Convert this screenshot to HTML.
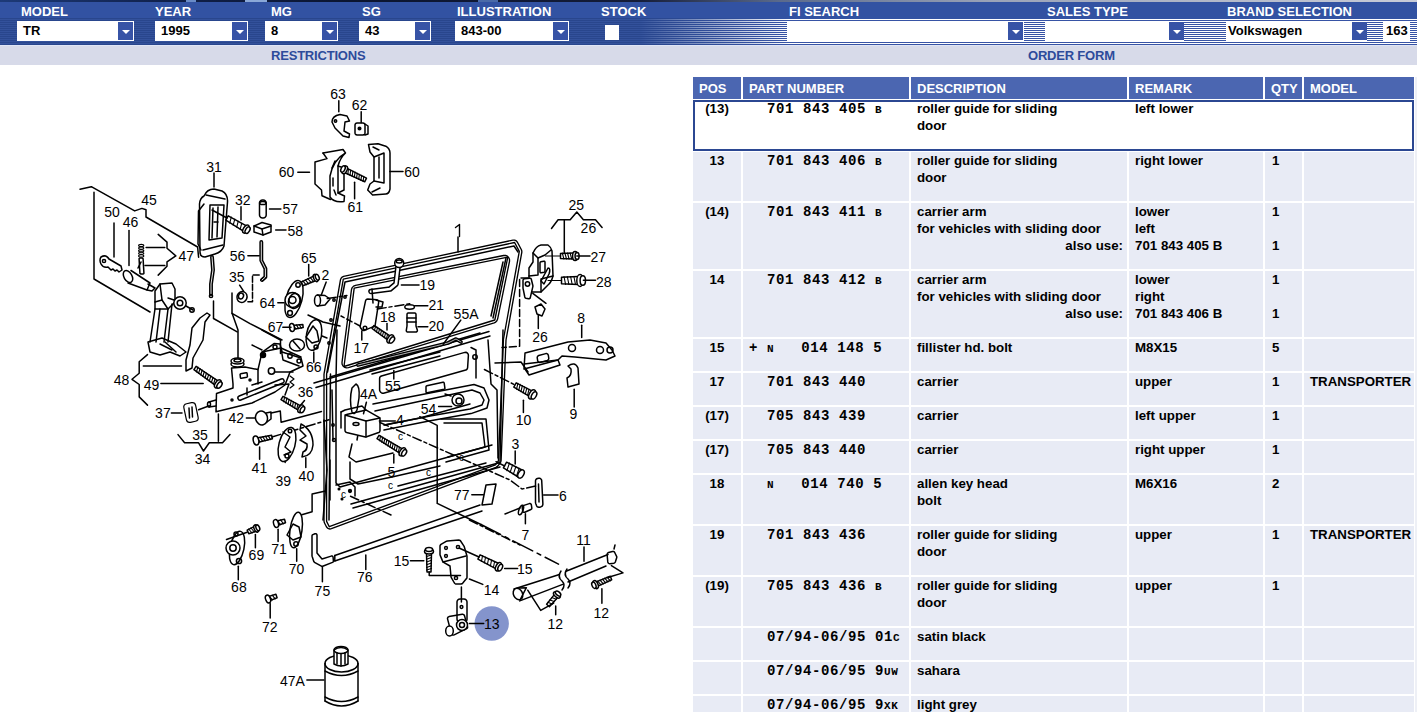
<!DOCTYPE html>
<html><head><meta charset="utf-8"><style>
*{margin:0;padding:0;box-sizing:border-box}
html,body{width:1417px;height:727px;overflow:hidden;background:#fff;font-family:"Liberation Sans",sans-serif}
.abs{position:absolute}
#top{position:absolute;left:0;top:0;width:1417px;height:2px;background:linear-gradient(90deg,#1d3a78 0%,#10204a 12%,#0b1530 25%,#141c38 45%,#5a6a8c 55%,#9aa3b8 70%,#c8ccd8 100%)}
#band{position:absolute;left:0;top:2px;width:1417px;height:17px;background:#3252a2}
#row2{position:absolute;left:0;top:19px;width:1417px;height:26px;background:repeating-linear-gradient(180deg,#ffffff 0px,#ffffff 1px,#3753a5 1px,#3753a5 2px)}
#row2b{position:absolute;left:0;top:18px;width:800px;height:27px;background:repeating-linear-gradient(180deg,#29468d 0px,#29468d 1px,#33519b 1px,#33519b 2px);-webkit-mask-image:linear-gradient(90deg,#000 0px,#000 640px,rgba(0,0,0,0) 790px);mask-image:linear-gradient(90deg,#000 0px,#000 640px,rgba(0,0,0,0) 790px)}
.lbl{position:absolute;top:4px;color:#fff;font-weight:bold;font-size:13px;line-height:15px;white-space:nowrap}
.sb{position:absolute;top:21px;height:20px;background:#fff;font-weight:bold;font-size:13px;line-height:20px;padding-left:6px;color:#000;white-space:nowrap}
.ar{position:absolute;top:22px;width:15px;height:18px;background:#3753a6}
.ar:after{content:"";position:absolute;left:4px;top:8px;border-left:4px solid transparent;border-right:4px solid transparent;border-top:4px solid #fff}
#bar{position:absolute;left:0;top:45px;width:1417px;height:20px;background:#d7dae9;border-top:1px solid #dfe5f6}
.bt{position:absolute;top:48px;color:#2d4b9b;font-weight:bold;font-size:13px;line-height:15px;letter-spacing:-0.2px}
.th{position:absolute;top:77px;height:22px;background:#4b66b1;color:#fff;font-weight:bold;font-size:13px;line-height:23px;padding-left:6px;white-space:nowrap}
.td{position:absolute;font-weight:bold;font-size:13.3px;color:#000;white-space:nowrap}
.td.bg{background:#e8ebf5}
.ln{height:17px;line-height:17px}
.td{padding-top:0px}
.c0 .ln{text-align:center}
.c1{padding-left:6px}
.c2{padding-left:6px;padding-right:4px}
.c3{padding-left:6px}
.c4{padding-left:7px}
.c5{padding-left:6px}
.rt{text-align:right}
.pn{font-family:"Liberation Mono",monospace;font-size:14px;letter-spacing:0.6px;white-space:pre;position:relative;top:1px}
.pn s{text-decoration:none;font-size:11px}
.sel{position:absolute;left:693px;top:100px;width:721px;height:51px;border:2px solid #2b4792;background:#fff}
#diag{position:absolute;left:0;top:65px}
</style></head><body>
<div id="top"></div><div class="abs" style="left:186px;top:0;width:10px;height:2px;background:#6a8cc8"></div><div class="abs" style="left:245px;top:0;width:22px;height:2px;background:#8aa8d8"></div><div class="abs" style="left:478px;top:0;width:20px;height:2px;background:#4a6aa8"></div><div id="band"></div><div id="row2"></div><div id="row2b"></div>
<div class="lbl" style="left:21px">MODEL</div>
<div class="lbl" style="left:155px">YEAR</div>
<div class="lbl" style="left:271px">MG</div>
<div class="lbl" style="left:362px">SG</div>
<div class="lbl" style="left:457px">ILLUSTRATION</div>
<div class="lbl" style="left:601px">STOCK</div>
<div class="lbl" style="left:789px">FI SEARCH</div>
<div class="lbl" style="left:1047px">SALES TYPE</div>
<div class="lbl" style="left:1227px">BRAND SELECTION</div>
<div class="sb" style="left:17px;width:117px">TR</div><div class="ar" style="left:118px"></div>
<div class="sb" style="left:155px;width:93px">1995</div><div class="ar" style="left:232px"></div>
<div class="sb" style="left:265px;width:73px">8</div><div class="ar" style="left:322px"></div>
<div class="sb" style="left:359px;width:72px">43</div><div class="ar" style="left:415px"></div>
<div class="sb" style="left:455px;width:114px">843-00</div><div class="ar" style="left:553px"></div>
<div class="abs" style="left:605px;top:25px;width:14px;height:15px;background:#fff"></div>
<div class="sb" style="left:787px;width:237px"></div><div class="ar" style="left:1008px"></div>
<div class="sb" style="left:1045px;width:139px"></div><div class="ar" style="left:1169px"></div>
<div class="sb" style="left:1226px;width:141px;padding-left:2px">Volkswagen</div><div class="ar" style="left:1352px"></div>
<div class="sb" style="left:1383px;width:27px;padding-left:3px">163</div>
<div id="bar"></div>
<div class="bt" style="left:271px">RESTRICTIONS</div>
<div class="bt" style="left:1028px">ORDER FORM</div>
<div id="tbl" style="position:absolute;left:0;top:0;width:1417px;height:712px;overflow:hidden"><div class="th" style="left:693px;width:48px">POS</div><div class="th" style="left:743px;width:166px">PART NUMBER</div><div class="th" style="left:911px;width:216px">DESCRIPTION</div><div class="th" style="left:1129px;width:134px">REMARK</div><div class="th" style="left:1265px;width:37px">QTY</div><div class="th" style="left:1304px;width:110px">MODEL</div><div class="sel" style="top:100px"></div><div class="td c0" style="top:100px;left:693px;width:48px;height:51px"><div class="ln c">(13)</div></div><div class="td c1" style="top:100px;left:743px;width:166px;height:51px"><div class="ln pn">  701 843 405 <s>B</s></div></div><div class="td c2" style="top:100px;left:911px;width:216px;height:51px"><div class="ln">roller guide for sliding</div><div class="ln">door</div></div><div class="td c3" style="top:100px;left:1129px;width:134px;height:51px"><div class="ln">left lower</div></div><div class="td c4" style="top:100px;left:1265px;width:37px;height:51px"><div class="ln">&nbsp;</div></div><div class="td c5" style="top:100px;left:1304px;width:110px;height:51px"><div class="ln"></div></div><div class="td bg c0" style="top:152px;left:693px;width:48px;height:49px"><div class="ln c">13</div></div><div class="td bg c1" style="top:152px;left:743px;width:166px;height:49px"><div class="ln pn">  701 843 406 <s>B</s></div></div><div class="td bg c2" style="top:152px;left:911px;width:216px;height:49px"><div class="ln">roller guide for sliding</div><div class="ln">door</div></div><div class="td bg c3" style="top:152px;left:1129px;width:134px;height:49px"><div class="ln">right lower</div></div><div class="td bg c4" style="top:152px;left:1265px;width:37px;height:49px"><div class="ln">1</div></div><div class="td bg c5" style="top:152px;left:1304px;width:110px;height:49px"><div class="ln"></div></div><div class="td bg c0" style="top:203px;left:693px;width:48px;height:66px"><div class="ln c">(14)</div></div><div class="td bg c1" style="top:203px;left:743px;width:166px;height:66px"><div class="ln pn">  701 843 411 <s>B</s></div></div><div class="td bg c2" style="top:203px;left:911px;width:216px;height:66px"><div class="ln">carrier arm</div><div class="ln">for vehicles with sliding door</div><div class="ln rt">also use:</div></div><div class="td bg c3" style="top:203px;left:1129px;width:134px;height:66px"><div class="ln">lower</div><div class="ln">left</div><div class="ln">701 843 405 B</div></div><div class="td bg c4" style="top:203px;left:1265px;width:37px;height:66px"><div class="ln">1</div><div class="ln">&nbsp;</div><div class="ln">1</div></div><div class="td bg c5" style="top:203px;left:1304px;width:110px;height:66px"><div class="ln"></div></div><div class="td bg c0" style="top:271px;left:693px;width:48px;height:66px"><div class="ln c">14</div></div><div class="td bg c1" style="top:271px;left:743px;width:166px;height:66px"><div class="ln pn">  701 843 412 <s>B</s></div></div><div class="td bg c2" style="top:271px;left:911px;width:216px;height:66px"><div class="ln">carrier arm</div><div class="ln">for vehicles with sliding door</div><div class="ln rt">also use:</div></div><div class="td bg c3" style="top:271px;left:1129px;width:134px;height:66px"><div class="ln">lower</div><div class="ln">right</div><div class="ln">701 843 406 B</div></div><div class="td bg c4" style="top:271px;left:1265px;width:37px;height:66px"><div class="ln">1</div><div class="ln">&nbsp;</div><div class="ln">1</div></div><div class="td bg c5" style="top:271px;left:1304px;width:110px;height:66px"><div class="ln"></div></div><div class="td bg c0" style="top:339px;left:693px;width:48px;height:32px"><div class="ln c">15</div></div><div class="td bg c1" style="top:339px;left:743px;width:166px;height:32px"><div class="ln pn">+ <s>N</s>   014 148 5</div></div><div class="td bg c2" style="top:339px;left:911px;width:216px;height:32px"><div class="ln">fillister hd. bolt</div></div><div class="td bg c3" style="top:339px;left:1129px;width:134px;height:32px"><div class="ln">M8X15</div></div><div class="td bg c4" style="top:339px;left:1265px;width:37px;height:32px"><div class="ln">5</div></div><div class="td bg c5" style="top:339px;left:1304px;width:110px;height:32px"><div class="ln"></div></div><div class="td bg c0" style="top:373px;left:693px;width:48px;height:32px"><div class="ln c">17</div></div><div class="td bg c1" style="top:373px;left:743px;width:166px;height:32px"><div class="ln pn">  701 843 440</div></div><div class="td bg c2" style="top:373px;left:911px;width:216px;height:32px"><div class="ln">carrier</div></div><div class="td bg c3" style="top:373px;left:1129px;width:134px;height:32px"><div class="ln">upper</div></div><div class="td bg c4" style="top:373px;left:1265px;width:37px;height:32px"><div class="ln">1</div></div><div class="td bg c5" style="top:373px;left:1304px;width:110px;height:32px"><div class="ln">TRANSPORTER</div></div><div class="td bg c0" style="top:407px;left:693px;width:48px;height:32px"><div class="ln c">(17)</div></div><div class="td bg c1" style="top:407px;left:743px;width:166px;height:32px"><div class="ln pn">  705 843 439</div></div><div class="td bg c2" style="top:407px;left:911px;width:216px;height:32px"><div class="ln">carrier</div></div><div class="td bg c3" style="top:407px;left:1129px;width:134px;height:32px"><div class="ln">left upper</div></div><div class="td bg c4" style="top:407px;left:1265px;width:37px;height:32px"><div class="ln">1</div></div><div class="td bg c5" style="top:407px;left:1304px;width:110px;height:32px"><div class="ln"></div></div><div class="td bg c0" style="top:441px;left:693px;width:48px;height:32px"><div class="ln c">(17)</div></div><div class="td bg c1" style="top:441px;left:743px;width:166px;height:32px"><div class="ln pn">  705 843 440</div></div><div class="td bg c2" style="top:441px;left:911px;width:216px;height:32px"><div class="ln">carrier</div></div><div class="td bg c3" style="top:441px;left:1129px;width:134px;height:32px"><div class="ln">right upper</div></div><div class="td bg c4" style="top:441px;left:1265px;width:37px;height:32px"><div class="ln">1</div></div><div class="td bg c5" style="top:441px;left:1304px;width:110px;height:32px"><div class="ln"></div></div><div class="td bg c0" style="top:475px;left:693px;width:48px;height:49px"><div class="ln c">18</div></div><div class="td bg c1" style="top:475px;left:743px;width:166px;height:49px"><div class="ln pn">  <s>N</s>   014 740 5</div></div><div class="td bg c2" style="top:475px;left:911px;width:216px;height:49px"><div class="ln">allen key head</div><div class="ln">bolt</div></div><div class="td bg c3" style="top:475px;left:1129px;width:134px;height:49px"><div class="ln">M6X16</div></div><div class="td bg c4" style="top:475px;left:1265px;width:37px;height:49px"><div class="ln">2</div></div><div class="td bg c5" style="top:475px;left:1304px;width:110px;height:49px"><div class="ln"></div></div><div class="td bg c0" style="top:526px;left:693px;width:48px;height:49px"><div class="ln c">19</div></div><div class="td bg c1" style="top:526px;left:743px;width:166px;height:49px"><div class="ln pn">  701 843 436</div></div><div class="td bg c2" style="top:526px;left:911px;width:216px;height:49px"><div class="ln">roller guide for sliding</div><div class="ln">door</div></div><div class="td bg c3" style="top:526px;left:1129px;width:134px;height:49px"><div class="ln">upper</div></div><div class="td bg c4" style="top:526px;left:1265px;width:37px;height:49px"><div class="ln">1</div></div><div class="td bg c5" style="top:526px;left:1304px;width:110px;height:49px"><div class="ln">TRANSPORTER</div></div><div class="td bg c0" style="top:577px;left:693px;width:48px;height:49px"><div class="ln c">(19)</div></div><div class="td bg c1" style="top:577px;left:743px;width:166px;height:49px"><div class="ln pn">  705 843 436 <s>B</s></div></div><div class="td bg c2" style="top:577px;left:911px;width:216px;height:49px"><div class="ln">roller guide for sliding</div><div class="ln">door</div></div><div class="td bg c3" style="top:577px;left:1129px;width:134px;height:49px"><div class="ln">upper</div></div><div class="td bg c4" style="top:577px;left:1265px;width:37px;height:49px"><div class="ln">1</div></div><div class="td bg c5" style="top:577px;left:1304px;width:110px;height:49px"><div class="ln"></div></div><div class="td bg c0" style="top:628px;left:693px;width:48px;height:32px"><div class="ln c"></div></div><div class="td bg c1" style="top:628px;left:743px;width:166px;height:32px"><div class="ln pn">  07/94-06/95 01<s>C</s></div></div><div class="td bg c2" style="top:628px;left:911px;width:216px;height:32px"><div class="ln">satin black</div></div><div class="td bg c3" style="top:628px;left:1129px;width:134px;height:32px"><div class="ln">&nbsp;</div></div><div class="td bg c4" style="top:628px;left:1265px;width:37px;height:32px"><div class="ln">&nbsp;</div></div><div class="td bg c5" style="top:628px;left:1304px;width:110px;height:32px"><div class="ln"></div></div><div class="td bg c0" style="top:662px;left:693px;width:48px;height:32px"><div class="ln c"></div></div><div class="td bg c1" style="top:662px;left:743px;width:166px;height:32px"><div class="ln pn">  07/94-06/95 9<s>UW</s></div></div><div class="td bg c2" style="top:662px;left:911px;width:216px;height:32px"><div class="ln">sahara</div></div><div class="td bg c3" style="top:662px;left:1129px;width:134px;height:32px"><div class="ln">&nbsp;</div></div><div class="td bg c4" style="top:662px;left:1265px;width:37px;height:32px"><div class="ln">&nbsp;</div></div><div class="td bg c5" style="top:662px;left:1304px;width:110px;height:32px"><div class="ln"></div></div><div class="td bg c0" style="top:696px;left:693px;width:48px;height:32px"><div class="ln c"></div></div><div class="td bg c1" style="top:696px;left:743px;width:166px;height:32px"><div class="ln pn">  07/94-06/95 9<s>XK</s></div></div><div class="td bg c2" style="top:696px;left:911px;width:216px;height:32px"><div class="ln">light grey</div></div><div class="td bg c3" style="top:696px;left:1129px;width:134px;height:32px"><div class="ln">&nbsp;</div></div><div class="td bg c4" style="top:696px;left:1265px;width:37px;height:32px"><div class="ln">&nbsp;</div></div><div class="td bg c5" style="top:696px;left:1304px;width:110px;height:32px"><div class="ln"></div></div></div>
<div class="abs" style="left:1415px;top:77px;width:2px;height:635px;background:#eef0f6"></div>
<svg id="diag" width="690" height="662" viewBox="0 65 690 662">
<g stroke="#000" stroke-linecap="round" stroke-linejoin="round" fill="none"><path d="M343.6,276.4 L342.2,277.1 L341.1,278.2 L340.5,279.7 L324.1,373.7 L324.0,374.3 L324.0,521.1 L324.4,522.8 L326.4,526.8 L327.3,527.9 L328.5,528.7 L329.9,529.0 L331.4,528.7 L496.0,467.4 L497.7,466.1 L500.2,463.0 L500.8,461.9 L501.1,460.7 L506.0,340.0 L521.8,252.3 L521.8,251.0 L521.4,249.8 L517.4,242.2 L516.3,240.9 L514.7,240.1 L513.0,240.1 L343.6,276.4 Z" stroke-width="1.35" fill="none"/>
<path d="M343.3,279.2 L326.6,374.2 L326.6,521.4 L329.3,526.7 L495.4,464.8 L498.4,461.0 L503.4,339.9 L503.4,339.5 L519.3,251.4 L514.6,242.5 L343.3,279.2 Z" stroke-width="1.35" fill="none"/>
<path d="M327.5,372.0 L345.0,282.0 L514.0,246.0 L518.0,252.0" stroke-width="1.5" fill="none"/>
<path d="M355.5,285.3 L353.6,286.1 L352.2,287.6 L351.5,289.5 L342.0,362.3 L342.1,364.3 L343.0,366.0 L344.6,367.3 L346.5,367.9 L348.4,367.7 L494.2,322.9 L495.7,322.1 L496.9,320.7 L497.6,319.1 L509.5,261.4 L509.5,259.4 L508.7,257.6 L507.4,256.2 L505.6,255.5 L503.6,255.5 L355.5,285.3 Z" stroke-width="1.35" fill="none"/>
<path d="M354.2,288.1 L344.0,366.5 L494.8,320.0 L507.8,257.2 L354.2,288.1 Z" stroke-width="1.35" fill="none"/>
<path d="M506.0,258.0 L493.0,318.0" stroke-width="1.5" fill="none"/>
<path d="M503.0,262.0 L491.0,316.0" stroke-width="1.5" fill="none"/>
<path d="M314.0,383.0 L489.0,331.5" stroke-width="1.5" fill="none"/>
<path d="M316.0,387.5 L490.0,336.0" stroke-width="1.5" fill="none"/>
<path d="M330.0,377.0 L480.0,333.0" stroke-width="1.5" fill="none"/>
<circle cx="334" cy="300" r="1.2" stroke-width="1.5" fill="none"/>
<circle cx="331" cy="320" r="1.2" stroke-width="1.5" fill="none"/>
<circle cx="329" cy="343" r="1.2" stroke-width="1.5" fill="none"/>
<circle cx="345" cy="297" r="1.2" stroke-width="1.5" fill="none"/>
<path d="M336.0,380.0 L336.0,483.0 L340.0,487.0 L492.0,445.0" stroke-width="1.5" fill="none"/>
<path d="M381.4,376.0 L380.5,376.5 L379.8,377.3 L379.6,378.4 L379.6,390.0 L379.8,390.9 L380.3,391.7 L381.0,392.5 L381.7,393.0 L382.6,393.3 L383.5,393.2 L465.8,370.0 L466.7,369.5 L467.3,368.7 L467.6,367.7 L468.4,355.3 L468.2,354.1 L467.5,353.2 L467.0,352.8 L465.9,352.3 L464.8,352.4 L381.4,376.0 Z" stroke-width="1.5" fill="none"/>
<path d="M373.0,404.0 L474.0,384.5 L484.0,388.0 L489.0,400.0 L487.0,408.0 L471.0,413.6 L429.0,421.0 L384.0,430.0" stroke-width="1.5" fill="none"/>
<path d="M375.0,411.0 L472.0,390.0 L480.0,393.0 L484.0,400.0 L482.0,405.0 L470.0,409.0 L430.0,416.0 L385.0,425.0" stroke-width="1.5" fill="none"/>
<path d="M471.0,347.5 L476.0,350.0 L476.0,378.0" stroke-width="1.5" fill="none"/>
<circle cx="475" cy="357" r="2.2" stroke-width="1.5" fill="none"/>
<path d="M441.0,419.0 L486.0,419.0 L489.0,450.0 L446.0,462.0" stroke-width="1.5" fill="none"/>
<path d="M444.0,423.0 L482.0,423.0 L485.0,447.0 L448.0,457.0" stroke-width="1.5" fill="none"/>
<path d="M350.0,462.0 L350.0,479.0 L358.0,484.0 L392.0,477.0" stroke-width="1.5" fill="none"/>
<path d="M352.0,444.0 L349.0,457.0 L356.0,462.0 L393.0,453.0" stroke-width="1.5" fill="none"/>
<path d="M361.0,417.0 L357.0,440.0" stroke-width="1.5" fill="none"/>
<path d="M351.0,504.0 L500.0,462.5" stroke-width="1.5" fill="none"/>
<path d="M353.0,508.0 L500.0,467.0" stroke-width="1.5" fill="none"/>
<path d="M392.0,477.0 L440.0,466.0" stroke-width="1.5" fill="none"/>
<path d="M398.0,486.0 L486.0,463.0" stroke-width="1.5" fill="none"/>
<path d="M336.0,485.0 L350.0,482.0 L355.0,487.0 L355.0,496.0" stroke-width="1.5" fill="none"/>
<circle cx="350" cy="491" r="1.4" stroke-width="1.5" fill="#000"/>
<circle cx="339" cy="489" r="0.8" stroke-width="1.5" fill="#000"/>
<circle cx="342" cy="499" r="0.8" stroke-width="1.5" fill="#000"/>
<path d="M384.0,425.0 L420.0,418.0 L470.0,404.0" stroke-width="1.5" fill="none"/>
<path d="M488.0,340.0 L491.0,384.0 L497.0,390.0 L498.0,458.0" stroke-width="1.5" fill="none"/>
<path d="M503.0,330.0 L500.0,462.0" stroke-width="1.5" fill="none"/>
<path d="M358.0,365.0 L448.0,343.0 L456.0,339.0 L461.0,342.0" stroke-width="3.7" fill="none"/>
<path d="M358.0,365.0 L448.0,343.0 L456.0,339.0 L461.0,342.0" stroke-width="0.7000000000000002" stroke="#fff" fill="none"/>
<path d="M370.0,370.0 L440.0,352.0" stroke-width="1.5" fill="none"/>
<path d="M372.0,374.0 L440.0,356.0" stroke-width="1.5" fill="none"/>
<path d="M80.0,189.2 L91.3,186.7 L134.7,210.9 L141.9,208.4 L146.0,209.8 L146.0,217.0 L197.6,247.0 L198.6,257.3" stroke-width="1.5" fill="none"/>
<path d="M94.0,192.3 L94.0,279.0 L150.0,312.0" stroke-width="1.5" fill="none"/>
<path d="M158.2,234.4 L167.0,242.1 L167.0,248.2 L175.8,255.9 L167.0,261.9 L167.0,266.3 L158.2,275.1" stroke-width="1.5" fill="none"/>
<path d="M146.1,247.6 L164.8,247.6" stroke-width="1.5" fill="none"/>
<path d="M145.0,265.4 L164.8,265.4" stroke-width="1.5" fill="none"/>
<path d="M101,257 Q106,254 109,259 L121,266 L122,270 L119,272 L117,270 L115,271 L113,269 L111,270 L108,267 Q103,268 101,264 Q99,260 101,257 Z" stroke-width="1.5" fill="none"/>
<circle cx="104" cy="261" r="1.6" stroke-width="1.5" fill="none"/>
<ellipse cx="128" cy="276.5" rx="4" ry="6.5" transform="rotate(-30 128 276.5)" stroke-width="1.5" fill="none"/>
<path d="M131.0,270.5 L150.0,283.0 L147.0,290.0 L128.0,283.0" stroke-width="1.5" fill="none"/>
<path d="M148.0,284.0 L155.0,288.0 L152.0,291.0 L147.0,290.0" stroke-width="1.5" fill="none"/>
<ellipse cx="141.2" cy="245.5" rx="2.6" ry="1.1" transform="rotate(0 141.2 245.5)" stroke-width="1.1" fill="none"/>
<ellipse cx="141.2" cy="248.1" rx="2.6" ry="1.1" transform="rotate(0 141.2 248.1)" stroke-width="1.1" fill="none"/>
<ellipse cx="141.2" cy="250.7" rx="2.6" ry="1.1" transform="rotate(0 141.2 250.7)" stroke-width="1.1" fill="none"/>
<ellipse cx="141.2" cy="253.3" rx="2.6" ry="1.1" transform="rotate(0 141.2 253.3)" stroke-width="1.1" fill="none"/>
<ellipse cx="141.2" cy="255.9" rx="2.6" ry="1.1" transform="rotate(0 141.2 255.9)" stroke-width="1.1" fill="none"/>
<path d="M140.1,258.0 L139.7,258.1 L139.3,258.3 L139.1,258.7 L139.1,259.1 L139.9,273.1 L140.0,273.4 L140.3,273.7 L140.6,273.9 L140.9,274.0 L142.9,274.0 L143.3,273.9 L143.7,273.7 L143.9,273.3 L143.9,272.9 L143.1,258.9 L143.0,258.6 L142.7,258.3 L142.4,258.1 L142.1,258.0 L140.1,258.0 Z" stroke-width="1.5" fill="none"/>
<path d="M138.0,268.0 L141.0,262.0" stroke-width="1.5" fill="none"/>
<path d="M204,196 Q207,189 214,189 L222,191 Q228,194 227.5,202 L224,246 Q222,252 215,254 L205,257 Q200,257 200,252 L199.5,204 Q200,198 204,196 Z" stroke-width="1.5" fill="#fff"/>
<path d="M204,204 L198.5,211 L198,244 L201,250" stroke-width="1.5" fill="none"/>
<path d="M210,205 L224,205 L222,238 L209,240 Z" stroke-width="1.5" fill="none"/>
<path d="M213.0,208.0 L212.0,238.0" stroke-width="1.5" fill="none"/>
<path d="M218.0,207.0 L217.0,237.0" stroke-width="1.5" fill="none"/>
<path d="M214.0,222.0 L218.0,222.0" stroke-width="1.5" fill="none"/>
<path d="M203.0,250.0 L223.0,245.0" stroke-width="1.5" fill="none"/>
<path d="M206.0,195.0 L225.0,199.0" stroke-width="1.5" fill="none"/>
<path d="M212.0,257.0 L213.0,270.0 L211.0,284.0 L211.0,294.0" stroke-width="3.9" fill="none"/>
<path d="M212.0,257.0 L213.0,270.0 L211.0,284.0 L211.0,294.0" stroke-width="0.8999999999999999" stroke="#fff" fill="none"/>
<circle cx="211" cy="296" r="1.6" stroke-width="1.5" fill="none"/>
<path d="M212.0,210.0 L227.0,218.0" stroke-width="1.5" fill="none"/>
<path d="M243.0,230.9 L225.8,220.1 L228.2,215.9 L246.0,225.7" stroke-width="1.5" fill="none"/>
<path d="M229.7,223.1 L231.3,217.1" stroke-width="1.1" fill="none"/>
<path d="M233.2,225.1 L234.8,219.1" stroke-width="1.1" fill="none"/>
<path d="M236.7,227.2 L238.3,221.2" stroke-width="1.1" fill="none"/>
<path d="M240.2,229.2 L241.8,223.2" stroke-width="1.1" fill="none"/>
<ellipse cx="245.85734695662484" cy="229.09889563732776" rx="2.475" ry="4.5" transform="rotate(30.479850981463006 245.85734695662484 229.09889563732776)" stroke-width="1.5" fill="#fff"/>
<ellipse cx="247.60250732942816" cy="230.12604717103488" rx="2.025" ry="3.6" transform="rotate(30.479850981463006 247.60250732942816 230.12604717103488)" stroke-width="1.5" fill="#fff"/>
<path d="M262.5,200.0 L261.4,200.2 L260.4,200.9 L259.7,201.9 L259.5,203.0 L259.5,215.0 L259.7,216.1 L260.4,217.1 L261.4,217.8 L262.5,218.0 L263.2,218.0 L264.3,217.8 L265.3,217.1 L266.0,216.1 L266.2,215.0 L266.2,203.0 L266.0,201.9 L265.3,200.9 L264.3,200.2 L263.2,200.0 L262.5,200.0 Z" stroke-width="1.5" fill="none"/>
<ellipse cx="262.8" cy="203" rx="3.2" ry="1.6" transform="rotate(0 262.8 203)" stroke-width="1.5" fill="none"/>
<path d="M254.0,226.0 L262.0,222.5 L271.0,225.0 L271.0,232.0 L263.0,235.0 L254.0,232.0 Z" stroke-width="1.5" fill="none"/>
<path d="M254.0,226.0 L262.0,229.0 L271.0,226.0" stroke-width="1.5" fill="none"/>
<path d="M262.0,229.0 L263.0,235.0" stroke-width="1.5" fill="none"/>
<path d="M261.3,242.0 L261.3,260.5 L265.4,268.7 L265.4,277.0 L262.0,280.0" stroke-width="3.9" fill="none"/>
<path d="M261.3,242.0 L261.3,260.5 L265.4,268.7 L265.4,277.0 L262.0,280.0" stroke-width="0.8999999999999999" stroke="#fff" fill="none"/>
<path d="M259.2,275.0 L252.5,275.0 L252.5,301.7 L246.8,301.7" stroke-width="1.5" fill="none" stroke-dasharray="6 2"/>
<ellipse cx="242" cy="297" rx="5" ry="5.5" transform="rotate(20 242 297)" stroke-width="1.5" fill="none"/>
<ellipse cx="241" cy="296" rx="2.5" ry="3" transform="rotate(20 241 296)" stroke-width="1.5" fill="none"/>
<path d="M232.0,293.0 L232.0,313.0 L238.0,330.0 L238.0,360.0" stroke-width="1.5" fill="none"/>
<path d="M213.5,301.0 L213.5,318.5 L237.2,331.9" stroke-width="1.5" fill="none"/>
<path d="M232.0,313.3 L250.0,323.6 L282.0,340.0" stroke-width="1.5" fill="none"/>
<path d="M332,122 Q332,116 340,114.5 L347,116 L349.5,121 L345,122 L344,131 L349.5,134 L349,137.5 L343,136 L335,128 Z" stroke-width="1.5" fill="none"/>
<circle cx="335.5" cy="121" r="1.2" stroke-width="1.5" fill="none"/>
<path d="M357.0,123.0 L356.2,123.2 L355.6,123.6 L355.2,124.2 L355.0,125.0 L355.0,133.0 L355.2,133.8 L355.6,134.4 L356.2,134.8 L357.0,135.0 L363.0,135.0 L363.8,134.8 L364.4,134.4 L364.8,133.8 L365.0,133.0 L365.0,125.0 L364.8,124.2 L364.4,123.6 L363.8,123.2 L363.0,123.0 L357.0,123.0 Z" stroke-width="1.5" fill="none"/>
<path d="M365.0,124.0 L368.0,126.0 L368.0,134.0 L365.0,135.0" stroke-width="1.5" fill="none"/>
<circle cx="359.5" cy="128.5" r="1.3" stroke-width="1.5" fill="#000"/>
<path d="M323,153 L327,158.6 L315,162 L315,184 L321.5,190 L322,195.7 L330.5,199.5" stroke-width="1.5" fill="none"/>
<path d="M323,153 L343,149.5 L345.5,153 Q333,160 330,176 L330,197 Q334,203 344,201.5 L344.5,196 L338,193 L338,166 Q340,158 345.5,153" stroke-width="1.5" fill="none"/>
<path d="M332,168 L335,161" stroke-width="1.5" fill="none"/>
<path d="M333,178 L333,186" stroke-width="1.5" fill="none"/>
<path d="M334,190 L336,195" stroke-width="1.5" fill="none"/>
<path d="M338.0,166.0 L344.0,168.0 L344.0,190.0 L338.0,193.0" stroke-width="1.5" fill="none"/>
<path d="M368.5,144.6 L378,143.7 L385.8,146.2 Q390,149 390,153 L390,189 Q389,194 385.8,194 L372.6,195 L367.7,190 L370,184 L374,181 L374,157 L370,152 Z" stroke-width="1.5" fill="none"/>
<path d="M374.0,157.0 L384.0,153.0 L384.0,183.0 L374.0,181.0" stroke-width="1.5" fill="none"/>
<path d="M379.0,157.0 L379.0,178.0" stroke-width="1.5" fill="none"/>
<path d="M373.0,147.0 L379.0,150.0" stroke-width="1.5" fill="none"/>
<path d="M372.0,192.0 L380.0,188.0" stroke-width="1.5" fill="none"/>
<path d="M347.1,168.3 L366.5,178.2 L364.7,181.8 L344.9,172.7" stroke-width="1.5" fill="none"/>
<path d="M363.8,176.3 L363.1,181.5" stroke-width="1.1" fill="none"/>
<path d="M361.6,175.3 L360.9,180.5" stroke-width="1.1" fill="none"/>
<path d="M359.4,174.2 L358.7,179.4" stroke-width="1.1" fill="none"/>
<path d="M357.3,173.2 L356.5,178.4" stroke-width="1.1" fill="none"/>
<path d="M355.1,172.1 L354.3,177.3" stroke-width="1.1" fill="none"/>
<path d="M352.9,171.1 L352.2,176.3" stroke-width="1.1" fill="none"/>
<path d="M350.7,170.0 L350.0,175.2" stroke-width="1.1" fill="none"/>
<path d="M348.5,169.0 L347.8,174.2" stroke-width="1.1" fill="none"/>
<ellipse cx="344.67719298710176" cy="169.85884353966665" rx="2.3100000000000005" ry="4.2" transform="rotate(-154.14081593740448 344.67719298710176 169.85884353966665)" stroke-width="1.5" fill="#fff"/>
<ellipse cx="342.9764411133754" cy="169.03449951923807" rx="1.8900000000000001" ry="3.3600000000000003" transform="rotate(-154.14081593740448 342.9764411133754 169.03449951923807)" stroke-width="1.5" fill="#fff"/>
<ellipse cx="294" cy="299" rx="8" ry="19" transform="rotate(15 294 299)" stroke-width="1.5" fill="#fff"/>
<circle cx="292.5" cy="300" r="7.5" stroke-width="1.5" fill="#fff"/>
<circle cx="292.5" cy="300" r="3.5" stroke-width="1.5" fill="none"/>
<ellipse cx="294.5" cy="301" rx="6" ry="7.5" transform="rotate(15 294.5 301)" stroke-width="1.5" fill="none"/>
<circle cx="298" cy="285" r="2.2" stroke-width="1.5" fill="none"/>
<circle cx="290" cy="313" r="2.4" stroke-width="1.5" fill="none"/>
<path d="M315.5,280.8 L302.8,285.8 L301.2,282.2 L313.5,276.2" stroke-width="1.5" fill="none"/>
<path d="M306.2,284.9 L302.8,280.9" stroke-width="1.1" fill="none"/>
<path d="M308.7,283.8 L305.3,279.8" stroke-width="1.1" fill="none"/>
<path d="M311.2,282.7 L307.8,278.7" stroke-width="1.1" fill="none"/>
<path d="M313.7,281.6 L310.3,277.6" stroke-width="1.1" fill="none"/>
<ellipse cx="315.71736899312225" cy="277.9643576430262" rx="2.09" ry="3.8" transform="rotate(-23.74949449286676 315.71736899312225 277.9643576430262)" stroke-width="1.5" fill="#fff"/>
<ellipse cx="317.2825576985652" cy="277.2756746126313" rx="1.71" ry="3.04" transform="rotate(-23.74949449286676 317.2825576985652 277.2756746126313)" stroke-width="1.5" fill="#fff"/>
<ellipse cx="317.5" cy="300.5" rx="3" ry="5.5" transform="rotate(0 317.5 300.5)" stroke-width="1.5" fill="none"/>
<path d="M317.5,295.0 L325.0,295.5 L330.0,299.0 L325.0,305.0 L317.5,306.0" stroke-width="1.5" fill="none"/>
<path d="M291.7,325.5 L302.8,324.4 L303.2,327.6 L292.3,329.5" stroke-width="1.5" fill="none"/>
<path d="M299.2,324.5 L301.3,328.2" stroke-width="1.1" fill="none"/>
<path d="M296.4,324.9 L298.6,328.6" stroke-width="1.1" fill="none"/>
<path d="M293.7,325.3 L295.8,329.0" stroke-width="1.1" fill="none"/>
<ellipse cx="292" cy="327.5" rx="2.4" ry="4" transform="rotate(172.23483398157467 292 327.5)" stroke-width="1.5" fill="#fff"/>
<ellipse cx="314" cy="335" rx="7.5" ry="15.5" transform="rotate(10 314 335)" stroke-width="1.5" fill="#fff"/>
<path d="M306,337 L313,326 L317,331 L319,341 L312,343 Z" stroke-width="1.5" fill="none"/>
<circle cx="316" cy="347" r="2" stroke-width="1.5" fill="none"/>
<path d="M322.0,336.0 L327.0,338.0" stroke-width="1.5" fill="none"/>
<path d="M327.3,298.6 L346.9,295.5" stroke-width="1.5" fill="none" stroke-dasharray="9 3 3 3"/>
<path d="M308.0,315.0 L323.0,322.0 L340.0,326.0" stroke-width="1.5" fill="none"/>
<path d="M216.5,393.5 L233.0,388.0 L233.0,384.0 L231.5,368.0 L245.0,367.0 L258.0,369.6 L262.0,352.3 L274.0,343.6 L280.0,344.0 L282.0,352.0 L301.0,358.0 L303.0,366.0 L290.0,372.0 L285.0,385.0 L275.0,392.0 L252.0,403.0 L216.0,411.7 Z" stroke-width="1.5" fill="#fff"/>
<ellipse cx="237.5" cy="364" rx="6.5" ry="3" transform="rotate(0 237.5 364)" stroke-width="1.5" fill="#fff"/>
<ellipse cx="237.5" cy="361" rx="6.5" ry="3" transform="rotate(0 237.5 361)" stroke-width="1.5" fill="#fff"/>
<ellipse cx="237.5" cy="360.5" rx="3.5" ry="1.5" transform="rotate(0 237.5 360.5)" stroke-width="1.5" fill="none"/>
<path d="M240.0,398.0 L282.0,381.0" stroke-width="5.7" fill="none"/>
<path d="M240.0,398.0 L282.0,381.0" stroke-width="2.7" stroke="#fff" fill="none"/>
<path d="M240.7,373.8 L240.4,374.0 L240.2,374.2 L240.1,374.4 L240.1,374.7 L240.4,377.6 L240.5,377.9 L240.7,378.2 L241.0,378.3 L241.4,378.3 L246.8,377.2 L247.1,377.0 L247.3,376.8 L247.4,376.6 L247.4,376.3 L247.1,373.4 L247.0,373.1 L246.8,372.8 L246.5,372.7 L246.1,372.7 L240.7,373.8 Z" stroke-width="1.5" fill="none"/>
<path d="M252.0,385.0 L262.0,382.0" stroke-width="1.5" fill="none"/>
<path d="M247.0,388.0 L247.0,395.0" stroke-width="1.5" fill="none"/>
<path d="M258.0,370.0 L258.0,384.0" stroke-width="1.5" fill="none"/>
<path d="M262.0,352.0 L281.0,348.0 L301.0,357.0" stroke-width="1.5" fill="none"/>
<path d="M281.0,348.0 L283.0,360.0 L299.0,366.0" stroke-width="1.5" fill="none"/>
<circle cx="275" cy="347" r="2" stroke-width="1.5" fill="none"/>
<circle cx="290" cy="356" r="2.2" stroke-width="1.5" fill="none"/>
<circle cx="299" cy="361" r="2" stroke-width="1.5" fill="none"/>
<circle cx="263" cy="355" r="2.5" stroke-width="1.5" fill="#000"/>
<circle cx="271.5" cy="371" r="3.2" stroke-width="1.5" fill="none"/>
<path d="M274.5,372.0 L293.0,372.0" stroke-width="1.5" fill="none"/>
<path d="M290.0,376.0 L294.0,379.0 L290.0,382.0 L294.0,385.0 L290.0,388.0" stroke-width="1.2" fill="none"/>
<path d="M275.0,385.0 L289.0,384.0 L285.0,395.0" stroke-width="1.5" fill="none"/>
<path d="M252.0,345.0 L262.0,350.0" stroke-width="1.5" fill="none"/>
<path d="M262.0,330.0 L280.5,340.0 L280.5,353.5" stroke-width="1.5" fill="none"/>
<path d="M209.0,402.0 L216.0,400.0" stroke-width="1.5" fill="none"/>
<path d="M209.0,407.0 L216.0,406.0" stroke-width="1.5" fill="none"/>
<ellipse cx="209" cy="404.5" rx="1.5" ry="2.5" transform="rotate(0 209 404.5)" stroke-width="1.5" fill="none"/>
<ellipse cx="297" cy="345" rx="7.5" ry="6" transform="rotate(0 297 345)" stroke-width="1.5" fill="#fff"/>
<path d="M293.0,341.0 L300.0,349.0" stroke-width="1.5" fill="none"/>
<circle cx="250" cy="380" r="1" stroke-width="1.5" fill="none"/>
<circle cx="232" cy="400" r="1" stroke-width="1.5" fill="none"/>
<path d="M298.3,410.2 L281.0,399.7 L283.0,396.3 L300.7,405.8" stroke-width="1.5" fill="none"/>
<path d="M283.6,401.8 L284.7,396.7" stroke-width="1.1" fill="none"/>
<path d="M285.8,403.1 L286.9,397.9" stroke-width="1.1" fill="none"/>
<path d="M288.0,404.3 L289.1,399.2" stroke-width="1.1" fill="none"/>
<path d="M290.2,405.6 L291.3,400.4" stroke-width="1.1" fill="none"/>
<path d="M292.4,406.8 L293.5,401.7" stroke-width="1.1" fill="none"/>
<path d="M294.6,408.1 L295.7,402.9" stroke-width="1.1" fill="none"/>
<path d="M296.8,409.3 L297.9,404.2" stroke-width="1.1" fill="none"/>
<ellipse cx="300.77631741892293" cy="408.72932423938454" rx="2.3100000000000005" ry="4.2" transform="rotate(29.74488129694222 300.77631741892293 408.72932423938454)" stroke-width="1.5" fill="#fff"/>
<ellipse cx="302.41729695753816" cy="409.66702683287895" rx="1.8900000000000001" ry="3.3600000000000003" transform="rotate(29.74488129694222 302.41729695753816 409.66702683287895)" stroke-width="1.5" fill="#fff"/>
<path d="M155.0,291.0 L160.0,284.0 L172.0,283.0 L175.0,289.0 L175.0,302.0 L168.0,309.0 L155.0,309.0 Z" stroke-width="1.5" fill="none"/>
<path d="M160.0,284.0 L162.0,300.0 L168.0,309.0" stroke-width="1.5" fill="none"/>
<path d="M162.0,300.0 L155.0,302.0" stroke-width="1.5" fill="none"/>
<path d="M155.0,309.0 L150.0,342.0" stroke-width="1.5" fill="none"/>
<path d="M168.0,309.0 L164.0,342.0" stroke-width="1.5" fill="none"/>
<path d="M160.0,309.0 L156.0,342.0" stroke-width="1.5" fill="none"/>
<path d="M172.0,304.0 L168.0,342.0" stroke-width="1.5" fill="none"/>
<path d="M148.0,342.0 L162.0,338.0 L176.0,344.0 L186.0,352.0 L180.0,356.0 L170.0,352.0 L160.0,355.0 L150.0,352.0 Z" stroke-width="1.5" fill="none"/>
<path d="M160.0,344.0 L172.0,350.0" stroke-width="1.5" fill="none"/>
<path d="M165.0,342.0 L176.0,352.0" stroke-width="1.5" fill="none"/>
<circle cx="180" cy="303" r="6.2" stroke-width="1.5" fill="#fff"/>
<circle cx="180" cy="303" r="2.8" stroke-width="1.5" fill="none"/>
<path d="M186.0,306.0 L193.0,310.0" stroke-width="1.5" fill="none"/>
<circle cx="192" cy="310" r="2.2" stroke-width="1.5" fill="none"/>
<path d="M168.0,298.0 L174.0,300.0" stroke-width="1.5" fill="none"/>
<path d="M200.0,318.0 L207.0,313.0 L210.0,315.0 L205.0,322.0 L203.0,340.0 L193.0,358.0 L192.0,368.0 L186.0,371.0 L186.0,360.0 L190.0,345.0 L192.0,328.0 Z" stroke-width="1.5" fill="none"/>
<path d="M215.1,385.1 L193.9,369.6 L196.1,366.4 L217.9,380.9" stroke-width="1.5" fill="none"/>
<path d="M196.4,372.0 L197.9,367.0" stroke-width="1.1" fill="none"/>
<path d="M198.5,373.5 L200.1,368.5" stroke-width="1.1" fill="none"/>
<path d="M200.7,375.0 L202.2,370.0" stroke-width="1.1" fill="none"/>
<path d="M202.8,376.5 L204.4,371.5" stroke-width="1.1" fill="none"/>
<path d="M205.0,378.0 L206.5,373.0" stroke-width="1.1" fill="none"/>
<path d="M207.1,379.5 L208.7,374.5" stroke-width="1.1" fill="none"/>
<path d="M209.3,381.0 L210.8,376.0" stroke-width="1.1" fill="none"/>
<path d="M211.4,382.5 L213.0,377.5" stroke-width="1.1" fill="none"/>
<path d="M213.6,384.0 L215.1,379.0" stroke-width="1.1" fill="none"/>
<ellipse cx="217.79169995302436" cy="383.9011860137379" rx="2.475" ry="4.5" transform="rotate(34.902495615924714 217.79169995302436 383.9011860137379)" stroke-width="1.5" fill="#fff"/>
<ellipse cx="219.45245703548426" cy="385.05985374568667" rx="2.025" ry="3.6" transform="rotate(34.902495615924714 219.45245703548426 385.05985374568667)" stroke-width="1.5" fill="#fff"/>
<path d="M147.5,354.6 L139.2,361.8 L139.2,373.2 L132.0,379.3 L139.2,384.5 L139.2,396.9 L147.5,405.1" stroke-width="1.5" fill="none"/>
<rect x="185" y="403" width="12" height="19" rx="3.5" transform="rotate(-12 191 412.5)" stroke-width="1.2" fill="none"/>
<path d="M189.0,408.0 L189.5,418.0" stroke-width="1.5" fill="none"/>
<path d="M192.0,407.0 L192.5,417.0" stroke-width="1.5" fill="none"/>
<path d="M198.6,409.8 L209.3,405.7" stroke-width="1.5" fill="none"/>
<path d="M178.0,434.6 L184.6,442.8 L198.6,442.8 L203.5,451.0 L209.3,442.8 L222.5,442.8 L230.0,434.6" stroke-width="1.5" fill="none"/>
<path d="M218.4,414.0 L218.4,441.2" stroke-width="1.5" fill="none"/>
<ellipse cx="261.5" cy="418" rx="6" ry="7" transform="rotate(-15 261.5 418)" stroke-width="1.5" fill="#fff"/>
<path d="M266.0,413.0 L271.0,412.0 L271.0,419.0 L267.0,422.0" stroke-width="1.5" fill="none"/>
<path d="M271.2,413.1 L280.3,411.1 L281.1,422.2 L321.5,411.5" stroke-width="1.5" fill="none"/>
<path d="M255.5,438.3 L271.6,435.2 L272.4,438.8 L256.5,442.7" stroke-width="1.5" fill="none"/>
<path d="M268.1,435.6 L270.6,439.6" stroke-width="1.1" fill="none"/>
<path d="M265.4,436.1 L267.9,440.2" stroke-width="1.1" fill="none"/>
<path d="M262.7,436.7 L265.3,440.8" stroke-width="1.1" fill="none"/>
<path d="M260.1,437.3 L262.6,441.4" stroke-width="1.1" fill="none"/>
<path d="M257.4,437.9 L259.9,441.9" stroke-width="1.1" fill="none"/>
<ellipse cx="256" cy="440.5" rx="2.6999999999999997" ry="4.5" transform="rotate(167.6609127216738 256 440.5)" stroke-width="1.5" fill="#fff"/>
<path d="M272.0,437.0 L329.0,419.7" stroke-width="1.5" fill="none" stroke-dasharray="9 3 3 3"/>
<ellipse cx="287" cy="444.5" rx="8" ry="17.5" transform="rotate(15 287 444.5)" stroke-width="1.5" fill="#fff"/>
<path d="M283,432 L290,437 L285,447 L291,452 L284,455" stroke-width="1.5" fill="none"/>
<circle cx="287" cy="456" r="2" stroke-width="1.5" fill="none"/>
<circle cx="290" cy="431" r="1.8" stroke-width="1.5" fill="none"/>
<path d="M301,424 Q313,430 313,445 Q312,456 302,457 L303,452 Q308,450 307,444 L300,440 L306,436 L300,430 Z" stroke-width="1.5" fill="none"/>
<path d="M324.0,420.0 L327.0,470.0 L323.0,520.0" stroke-width="1.5" fill="none"/>
<path d="M330.5,374.0 L329.0,520.0" stroke-width="1.5" fill="none"/>
<path d="M337.0,330.0 L336.0,380.0" stroke-width="1.5" fill="none"/>
<path d="M332.0,390.0 L333.0,440.0" stroke-width="1.5" fill="none"/>
<path d="M330.0,460.0 L330.0,500.0" stroke-width="1.5" fill="none"/>
<circle cx="334" cy="440" r="1.5" stroke-width="1.5" fill="none"/>
<circle cx="333" cy="425" r="1.2" stroke-width="1.5" fill="none"/>
<ellipse cx="237" cy="548" rx="7" ry="17" transform="rotate(12 237 548)" stroke-width="1.5" fill="#fff"/>
<circle cx="233" cy="548" r="7" stroke-width="1.5" fill="#fff"/>
<circle cx="233" cy="548" r="3.2" stroke-width="1.5" fill="none"/>
<circle cx="239" cy="561" r="2.6" stroke-width="1.5" fill="none"/>
<circle cx="236" cy="534" r="2" stroke-width="1.5" fill="none"/>
<path d="M226.5,539.5 L247.1,532.3" stroke-width="1.5" fill="none"/>
<path d="M256.0,531.3 L248.8,533.8 L247.2,530.2 L254.0,526.7" stroke-width="1.5" fill="none"/>
<path d="M252.1,533.0 L248.6,529.0" stroke-width="1.1" fill="none"/>
<path d="M254.4,532.0 L250.9,528.0" stroke-width="1.1" fill="none"/>
<ellipse cx="256.22246288992403" cy="528.4760873328897" rx="2.09" ry="3.8" transform="rotate(-23.19859051364819 256.22246288992403 528.4760873328897)" stroke-width="1.5" fill="#fff"/>
<ellipse cx="257.7942008912549" cy="527.8024853323193" rx="1.71" ry="3.04" transform="rotate(-23.19859051364819 257.7942008912549 527.8024853323193)" stroke-width="1.5" fill="#fff"/>
<path d="M275.4,521.3 L284.5,519.3 L285.5,522.7 L276.6,525.7" stroke-width="1.5" fill="none"/>
<path d="M280.6,519.9 L283.4,523.8" stroke-width="1.1" fill="none"/>
<path d="M277.6,520.7 L280.4,524.6" stroke-width="1.1" fill="none"/>
<ellipse cx="276" cy="523.5" rx="2.4" ry="4" transform="rotate(164.47588900324575 276 523.5)" stroke-width="1.5" fill="#fff"/>
<ellipse cx="296" cy="530" rx="6" ry="18" transform="rotate(8 296 530)" stroke-width="1.5" fill="#fff"/>
<path d="M287,535 L293,524 L299,527 L301,537 L293,540 Z" stroke-width="1.5" fill="none"/>
<circle cx="296" cy="544" r="2.2" stroke-width="1.5" fill="none"/>
<path d="M301.8,514.8 L312.1,511.7 L312.1,494.1 L325.5,491.0" stroke-width="1.5" fill="none"/>
<path d="M267.3,596.9 L275.9,594.3 L277.1,597.7 L268.7,601.1" stroke-width="1.5" fill="none"/>
<path d="M272.2,595.1 L275.2,598.9" stroke-width="1.1" fill="none"/>
<path d="M269.3,596.1 L272.3,599.9" stroke-width="1.1" fill="none"/>
<ellipse cx="268" cy="599" rx="2.4" ry="4" transform="rotate(160.55996517182382 268 599)" stroke-width="1.5" fill="#fff"/>
<path d="M312.9,534.6 L312.4,534.9 L312.1,535.4 L312.0,536.0 L312.0,555.8 L312.1,556.2 L313.8,561.5 L314.1,561.9 L314.5,562.3 L321.4,566.2 L322.0,566.3 L322.7,566.2 L332.5,562.4 L333.0,562.1 L333.3,561.5 L333.4,560.9 L333.1,557.4 L333.0,556.9 L332.7,556.4 L332.3,556.1 L331.7,556.0 L331.2,556.1 L322.0,559.0 L317.0,553.0 L317.0,535.2 L316.9,534.6 L316.6,534.2 L316.1,533.8 L315.5,533.7 L314.9,533.8 L312.9,534.6 Z" stroke-width="1.5" fill="none"/>
<path d="M334.8,555.5 L480.0,505.0" stroke-width="1.5" fill="none"/>
<path d="M334.8,561.0 L482.0,511.0" stroke-width="1.5" fill="none"/>
<path d="M334.8,555.5 L334.8,561.0" stroke-width="1.5" fill="none"/>
<ellipse cx="341.5" cy="663.5" rx="16.5" ry="8.5" transform="rotate(0 341.5 663.5)" stroke-width="1.5" fill="#fff"/>
<path d="M325.0,663.5 L325.0,701.0" stroke-width="1.5" fill="none"/>
<path d="M358.0,663.5 L358.0,701.0" stroke-width="1.5" fill="none"/>
<path d="M325,701 Q341.5,711 358,701" stroke-width="1.5" fill="none"/>
<path d="M325,671 Q341.5,680 358,671" stroke-width="1.5" fill="none"/>
<path d="M325,697 Q341.5,706 358,697" stroke-width="1.5" fill="none"/>
<path d="M334,664 L334,650 Q341,645 348,650 L348,664 Q341,668 334,664 Z" stroke-width="1.5" fill="#fff"/>
<ellipse cx="341" cy="650" rx="7" ry="3.5" transform="rotate(0 341 650)" stroke-width="1.5" fill="none"/>
<path d="M337.0,653.0 L337.0,664.0" stroke-width="1.5" fill="none"/>
<path d="M341.0,654.0 L341.0,666.0" stroke-width="1.5" fill="none"/>
<path d="M345.0,653.0 L345.0,664.0" stroke-width="1.5" fill="none"/>
<path d="M398.0,267.0 L396.0,284.0 L390.0,289.0 L371.0,291.5" stroke-width="5.7" fill="none"/>
<path d="M398.0,267.0 L396.0,284.0 L390.0,289.0 L371.0,291.5" stroke-width="2.7" stroke="#fff" fill="none"/>
<circle cx="399.2" cy="263" r="4.5" stroke-width="1.5" fill="#fff"/>
<ellipse cx="399.2" cy="261.5" rx="3" ry="1.5" transform="rotate(0 399.2 261.5)" stroke-width="1.5" fill="none"/>
<path d="M367.7,299.1 L367.0,299.2 L366.4,299.5 L365.9,300.0 L365.6,300.7 L360.2,326.1 L360.2,327.0 L360.5,327.7 L362.1,329.8 L362.7,330.3 L363.6,330.6 L364.4,330.4 L374.0,326.4 L374.5,326.1 L375.0,325.5 L375.2,324.9 L378.7,302.1 L378.6,301.3 L378.3,300.6 L377.6,300.1 L376.8,299.8 L367.7,299.1 Z" stroke-width="1.5" fill="none"/>
<path d="M376.0,300.0 L383.0,302.0 L382.0,307.0 L376.0,307.0" stroke-width="1.5" fill="none"/>
<circle cx="365" cy="328" r="1.8" stroke-width="1.5" fill="none"/>
<path d="M373.0,303.0 L372.0,289.0" stroke-width="1.5" fill="none"/>
<path d="M387.7,339.9 L372.0,328.5 L374.0,325.5 L390.3,336.1" stroke-width="1.5" fill="none"/>
<path d="M374.4,330.7 L375.6,326.1" stroke-width="1.1" fill="none"/>
<path d="M376.4,332.1 L377.6,327.4" stroke-width="1.1" fill="none"/>
<path d="M378.4,333.4 L379.6,328.8" stroke-width="1.1" fill="none"/>
<path d="M380.4,334.8 L381.6,330.2" stroke-width="1.1" fill="none"/>
<path d="M382.4,336.2 L383.6,331.6" stroke-width="1.1" fill="none"/>
<path d="M384.4,337.6 L385.6,332.9" stroke-width="1.1" fill="none"/>
<path d="M386.4,338.9 L387.6,334.3" stroke-width="1.1" fill="none"/>
<ellipse cx="390.297866030614" cy="338.8922828960471" rx="2.475" ry="4.5" transform="rotate(34.5085229876684 390.297866030614 338.8922828960471)" stroke-width="1.5" fill="#fff"/>
<ellipse cx="391.96655092711774" cy="340.03950376239345" rx="2.025" ry="3.6" transform="rotate(34.5085229876684 391.96655092711774 340.03950376239345)" stroke-width="1.5" fill="#fff"/>
<ellipse cx="409.6" cy="307" rx="4.8" ry="2.2" transform="rotate(0 409.6 307)" stroke-width="1.5" fill="none"/>
<path d="M377.2,309.1 L410.2,303.6" stroke-width="1.5" fill="none" stroke-dasharray="9 3 3 3"/>
<path d="M408.5,313.0 L407.9,313.1 L407.4,313.4 L407.1,313.9 L407.0,314.5 L407.0,326.0 L406.3,330.3 L406.3,330.9 L406.6,331.5 L407.1,331.9 L407.8,332.0 L415.9,332.0 L416.5,331.9 L416.9,331.6 L417.3,331.1 L417.4,330.6 L417.3,330.0 L416.0,326.0 L416.0,314.5 L415.9,313.9 L415.6,313.4 L415.1,313.1 L414.5,313.0 L408.5,313.0 Z" stroke-width="1.5" fill="none"/>
<path d="M407.0,318.0 L416.0,318.0" stroke-width="1.5" fill="none"/>
<path d="M407.0,322.0 L416.0,322.0" stroke-width="1.5" fill="none"/>
<path d="M360.0,326.0 L341.0,316.0" stroke-width="1.5" fill="none" stroke-dasharray="6 3"/>
<circle cx="458" cy="400" r="6" stroke-width="1.5" fill="none"/>
<circle cx="459" cy="401" r="3" stroke-width="1.5" fill="none"/>
<path d="M451.0,396.0 L445.0,394.0" stroke-width="1.5" fill="none"/>
<path d="M426.8,385.8 L426.4,386.0 L426.1,386.4 L426.0,386.8 L426.0,391.8 L426.1,392.1 L426.2,392.4 L426.5,392.6 L426.9,392.8 L427.2,392.7 L444.1,389.2 L444.4,389.0 L444.7,388.8 L444.9,388.4 L444.9,388.1 L444.2,383.1 L444.0,382.7 L443.7,382.4 L443.4,382.2 L442.9,382.2 L426.8,385.8 Z" stroke-width="1.5" fill="none"/>
<path d="M346.5,414.6 L345.7,415.0 L345.2,415.7 L345.0,416.6 L345.0,430.4 L345.2,431.3 L345.7,432.0 L346.5,432.4 L365.4,436.9 L366.6,436.8 L378.7,432.5 L379.4,432.1 L379.8,431.4 L380.0,430.6 L380.0,419.2 L379.9,418.5 L379.5,417.9 L379.0,417.4 L366.7,410.4 L366.0,410.1 L365.2,410.2 L346.5,414.6 Z" stroke-width="1.5" fill="#fff"/>
<path d="M345.0,415.0 L366.0,421.0 L380.0,418.0" stroke-width="1.5" fill="none"/>
<path d="M366.0,421.0 L366.0,437.0" stroke-width="1.5" fill="none"/>
<ellipse cx="356" cy="424" rx="3" ry="1.5" transform="rotate(0 356 424)" stroke-width="1.5" fill="none"/>
<path d="M341.0,412.0 L345.0,410.0 L362.0,406.0 L366.0,410.0" stroke-width="1.5" fill="none"/>
<path d="M341.0,412.0 L341.0,428.0" stroke-width="1.5" fill="none"/>
<path d="M399.7,453.1 L377.0,438.7 L379.0,435.3 L402.3,448.9" stroke-width="1.5" fill="none"/>
<path d="M379.5,440.8 L380.7,435.7" stroke-width="1.1" fill="none"/>
<path d="M381.6,442.1 L382.8,437.0" stroke-width="1.1" fill="none"/>
<path d="M383.7,443.4 L384.9,438.3" stroke-width="1.1" fill="none"/>
<path d="M385.7,444.6 L387.0,439.5" stroke-width="1.1" fill="none"/>
<path d="M387.8,445.9 L389.1,440.8" stroke-width="1.1" fill="none"/>
<path d="M389.9,447.2 L391.2,442.1" stroke-width="1.1" fill="none"/>
<path d="M392.0,448.5 L393.3,443.4" stroke-width="1.1" fill="none"/>
<path d="M394.1,449.7 L395.3,444.6" stroke-width="1.1" fill="none"/>
<path d="M396.2,451.0 L397.4,445.9" stroke-width="1.1" fill="none"/>
<path d="M398.3,452.3 L399.5,447.2" stroke-width="1.1" fill="none"/>
<ellipse cx="402.34536272509274" cy="451.8189164413608" rx="2.475" ry="4.5" transform="rotate(31.328692867804172 402.34536272509274 451.8189164413608)" stroke-width="1.5" fill="#fff"/>
<ellipse cx="404.07511480021196" cy="452.8718090088247" rx="2.025" ry="3.6" transform="rotate(31.328692867804172 404.07511480021196 452.8718090088247)" stroke-width="1.5" fill="#fff"/>
<path d="M352,388 Q349,400 352,412 Q354,416 357,410 L359,398 Q360,386 356,384 Z" stroke-width="1.5" fill="none"/>
<path d="M486.0,485.0 L496.0,484.0 L492.0,504.0 L482.0,505.0 Z" stroke-width="1.5" fill="none"/>
<path d="M380.0,422.5 L510.0,480.0 L522.0,489.0 L536.0,486.0" stroke-width="1.5" fill="none" stroke-dasharray="9 3 3 3"/>
<path d="M419.8,416.7 L437.2,425.4 L437.2,503.4 L481.0,524.5" stroke-width="1.5" fill="none"/>
<path d="M481.0,524.5 L558.5,564.1" stroke-width="1.5" fill="none" stroke-dasharray="22 5 4 5"/>
<path d="M350.5,496.2 L391.0,515.0" stroke-width="1.5" fill="none" stroke-dasharray="9 3 3 3"/>
<path d="M533,253 Q536,246 541,245 L548,245 Q551,247 552,251 L553,276 Q551,283 548,285 L541,292 L532,292 L529,286 L529,268 L533,262 Z" stroke-width="1.5" fill="#fff"/>
<path d="M533.0,253.0 L538.0,258.0 L545.0,255.0 L551.0,250.0" stroke-width="1.5" fill="none"/>
<path d="M538.0,258.0 L538.0,275.0 L529.0,276.0" stroke-width="1.5" fill="none"/>
<path d="M540.8,261.8 L540.4,262.0 L540.1,262.4 L540.0,262.8 L540.0,271.8 L540.1,272.1 L540.2,272.4 L540.5,272.7 L540.8,272.8 L541.2,272.8 L544.2,272.2 L544.6,272.0 L544.9,271.6 L545.0,271.2 L545.0,262.2 L544.9,261.9 L544.8,261.6 L544.5,261.3 L544.2,261.2 L543.8,261.2 L540.8,261.8 Z" stroke-width="1.5" fill="none"/>
<path d="M541,281 L548,268 Q551,268 549,274 L544,284 Z" stroke-width="1.5" fill="none"/>
<path d="M541.0,292.0 L541.0,279.0 L553.0,276.0" stroke-width="1.5" fill="none"/>
<path d="M545.5,256.0 L560.0,256.0" stroke-width="1.1" fill="none"/>
<path d="M548.0,280.5 L561.5,280.5" stroke-width="1.1" fill="none"/>
<path d="M524.3,278.8 L523.8,279.0 L523.4,279.3 L523.1,279.8 L523.0,280.3 L523.0,287.9 L523.0,288.1 L524.8,297.0 L525.0,297.6 L525.4,298.0 L526.0,298.2 L528.6,298.7 L529.1,298.7 L529.7,298.5 L530.1,298.1 L530.3,297.6 L532.9,286.4 L532.9,285.7 L531.3,279.3 L531.1,278.8 L530.7,278.4 L530.2,278.2 L529.7,278.2 L524.3,278.8 Z" stroke-width="1.5" fill="#fff"/>
<circle cx="527.5" cy="284" r="2.2" stroke-width="1.5" fill="none"/>
<path d="M551.5,228.5 L558.1,219.7 L570.2,219.7 L576.8,212.0 L583.4,219.7 L595.5,219.7 L602.1,227.4" stroke-width="1.5" fill="none"/>
<path d="M573.5,259.0 L560.5,258.4 L560.5,253.6 L573.5,253.0" stroke-width="1.5" fill="none"/>
<path d="M563.9,259.0 L562.3,253.0" stroke-width="1.1" fill="none"/>
<path d="M566.5,259.0 L564.9,253.0" stroke-width="1.1" fill="none"/>
<path d="M569.1,259.0 L567.5,253.0" stroke-width="1.1" fill="none"/>
<path d="M571.7,259.0 L570.1,253.0" stroke-width="1.1" fill="none"/>
<ellipse cx="575.075" cy="256.0" rx="2.475" ry="4.5" transform="rotate(0.0 575.075 256.0)" stroke-width="1.5" fill="#fff"/>
<ellipse cx="577.1" cy="256.0" rx="2.025" ry="3.6" transform="rotate(0.0 577.1 256.0)" stroke-width="1.5" fill="#fff"/>
<path d="M578.0,284.5 L561.5,283.7 L561.5,277.3 L578.0,276.5" stroke-width="1.5" fill="none"/>
<path d="M565.6,284.5 L564.0,276.5" stroke-width="1.1" fill="none"/>
<path d="M568.9,284.5 L567.3,276.5" stroke-width="1.1" fill="none"/>
<path d="M572.2,284.5 L570.6,276.5" stroke-width="1.1" fill="none"/>
<path d="M575.5,284.5 L573.9,276.5" stroke-width="1.1" fill="none"/>
<ellipse cx="580.1" cy="280.5" rx="3.3000000000000003" ry="6" transform="rotate(0.0 580.1 280.5)" stroke-width="1.5" fill="#fff"/>
<ellipse cx="582.8" cy="280.5" rx="2.7" ry="4.800000000000001" transform="rotate(0.0 582.8 280.5)" stroke-width="1.5" fill="#fff"/>
<path d="M535,307 L541,304 L545,309 L542,316 L537,314 Z" stroke-width="1.5" fill="none"/>
<path d="M532.8,293.4 L546.0,303.3" stroke-width="1.5" fill="none"/>
<path d="M528.0,278.0 L519.6,278.0 L519.6,346.3 L502.0,347.5" stroke-width="1.5" fill="none" stroke-dasharray="7 3"/>
<path d="M525.0,353.0 L568.0,342.0 L590.0,340.0 L606.0,343.0 L612.0,350.0 L615.0,356.0 L606.0,360.0 L575.0,357.0 L562.0,356.0 L558.0,360.0 L524.0,369.0 Z" stroke-width="1.5" fill="none"/>
<path d="M524.0,364.0 L558.0,360.0 L560.0,365.0 L529.0,375.0 L525.0,369.0" stroke-width="1.5" fill="none"/>
<path d="M538.7,355.5 L538.1,355.8 L537.6,356.4 L537.3,357.0 L537.2,357.7 L537.7,360.8 L538.0,361.5 L538.6,362.1 L539.3,362.4 L540.2,362.4 L547.3,360.5 L547.9,360.2 L548.4,359.6 L548.7,359.0 L548.8,358.3 L548.3,355.2 L548.0,354.5 L547.4,353.9 L546.7,353.6 L545.8,353.6 L538.7,355.5 Z" stroke-width="1.5" fill="none"/>
<circle cx="572" cy="348" r="3.5" stroke-width="1.5" fill="none"/>
<circle cx="600" cy="350" r="3.5" stroke-width="1.5" fill="none"/>
<circle cx="610" cy="350" r="3" stroke-width="1.5" fill="none"/>
<path d="M495.0,363.0 L521.0,362.0 L528.0,372.0" stroke-width="1.5" fill="none"/>
<path d="M568,366 Q575,361 578,368 L579,384 L568,387 L567,378 Q572,376 571,369 Z" stroke-width="1.5" fill="none"/>
<path d="M529.1,396.1 L513.8,387.1 L516.2,382.9 L531.9,390.9" stroke-width="1.5" fill="none"/>
<path d="M516.5,389.2 L518.0,383.2" stroke-width="1.1" fill="none"/>
<path d="M518.7,390.4 L520.2,384.4" stroke-width="1.1" fill="none"/>
<path d="M520.9,391.7 L522.4,385.6" stroke-width="1.1" fill="none"/>
<path d="M523.1,392.9 L524.6,386.8" stroke-width="1.1" fill="none"/>
<path d="M525.3,394.1 L526.8,388.1" stroke-width="1.1" fill="none"/>
<path d="M527.5,395.3 L529.0,389.3" stroke-width="1.1" fill="none"/>
<ellipse cx="532.0344217151749" cy="394.341457069612" rx="2.75" ry="5" transform="rotate(28.739795291688043 532.0344217151749 394.341457069612)" stroke-width="1.5" fill="#fff"/>
<ellipse cx="534.0072496346853" cy="395.4233304448274" rx="2.25" ry="4.0" transform="rotate(28.739795291688043 534.0072496346853 395.4233304448274)" stroke-width="1.5" fill="#fff"/>
<path d="M484.4,369.5 L515.2,385.0" stroke-width="1.5" fill="none" stroke-dasharray="9 3 3 3"/>
<path d="M519.0,477.5 L503.4,467.8 L506.6,462.2 L523.0,470.5" stroke-width="1.5" fill="none"/>
<path d="M506.9,470.7 L509.5,462.9" stroke-width="1.1" fill="none"/>
<path d="M510.1,472.5 L512.7,464.7" stroke-width="1.1" fill="none"/>
<path d="M513.3,474.3 L515.9,466.5" stroke-width="1.1" fill="none"/>
<path d="M516.5,476.1 L519.1,468.3" stroke-width="1.1" fill="none"/>
<ellipse cx="521" cy="474" rx="2.6999999999999997" ry="4.5" transform="rotate(29.357753542791276 521 474)" stroke-width="1.5" fill="#fff"/>
<path d="M496.0,461.7 L504.6,466.0" stroke-width="1.5" fill="none"/>
<path d="M537.4,478.5 L536.4,479.0 L535.7,479.9 L535.5,481.0 L535.5,502.5 L535.7,503.4 L536.6,505.8 L537.1,506.6 L537.9,507.1 L538.8,507.3 L539.8,507.2 L541.3,506.6 L542.2,506.1 L542.7,505.2 L542.9,504.2 L541.7,480.5 L541.4,479.5 L540.6,478.7 L539.6,478.2 L538.6,478.2 L537.4,478.5 Z" stroke-width="1.5" fill="none"/>
<path d="M538.5,484.0 L539.0,502.0" stroke-width="1.5" fill="none"/>
<path d="M505.0,514.0 L520.0,508.0" stroke-width="1.5" fill="none"/>
<ellipse cx="521" cy="510" rx="2" ry="5" transform="rotate(20 521 510)" stroke-width="1.5" fill="none"/>
<path d="M523.2,505.6 L522.7,505.9 L522.4,506.2 L522.2,506.7 L522.2,507.2 L522.7,511.0 L522.9,511.6 L523.2,512.0 L523.7,512.2 L524.3,512.3 L524.8,512.2 L530.9,509.5 L531.5,509.1 L531.8,508.5 L531.8,507.9 L531.3,504.7 L531.0,504.1 L530.6,503.7 L530.0,503.5 L529.3,503.6 L523.2,505.6 Z" stroke-width="1.5" fill="none"/>
<path d="M514.0,589.0 L559.4,574.5" stroke-width="1.5" fill="none"/>
<path d="M566.0,571.2 L608.0,554.5" stroke-width="1.5" fill="none"/>
<path d="M519.8,600.9 L562.7,584.4" stroke-width="1.5" fill="none"/>
<path d="M568.0,582.0 L606.0,566.0" stroke-width="1.5" fill="none"/>
<ellipse cx="518" cy="594" rx="4.5" ry="6" transform="rotate(-25 518 594)" stroke-width="1.5" fill="#fff"/>
<path d="M518.0,588.0 L526.4,587.7 L520.0,600.0" stroke-width="1.5" fill="none"/>
<path d="M608.6,552.5 L608.0,552.8 L607.5,553.3 L607.2,554.0 L607.1,554.6 L607.8,561.9 L608.0,562.7 L608.6,563.3 L609.3,563.7 L610.1,563.7 L613.8,563.2 L614.5,562.9 L615.0,562.5 L615.4,561.8 L616.7,557.8 L616.8,557.0 L616.6,556.3 L614.7,552.5 L614.3,551.9 L613.8,551.5 L613.1,551.4 L612.4,551.5 L608.6,552.5 Z" stroke-width="1.5" fill="none"/>
<path d="M614.0,549.0 L615.0,545.0" stroke-width="1.5" fill="none"/>
<path d="M561,571 Q557,577 562,581 Q566,585 562,590" stroke-width="1.5" fill="none"/>
<path d="M567,569 Q563,575 568,579 Q572,583 568,588" stroke-width="1.5" fill="none"/>
<path d="M527.7,590.2 L540.7,610.4 L553.7,603.2" stroke-width="1.5" fill="none"/>
<path d="M611.4,565.6 L623.0,572.9 L608.5,577.2" stroke-width="1.5" fill="none"/>
<path d="M557.7,597.4 L549.4,606.7 L546.6,604.3 L554.3,594.6" stroke-width="1.5" fill="none"/>
<path d="M552.2,604.0 L547.8,602.3" stroke-width="1.1" fill="none"/>
<path d="M554.2,601.6 L549.8,599.9" stroke-width="1.1" fill="none"/>
<path d="M556.2,599.2 L551.8,597.5" stroke-width="1.1" fill="none"/>
<ellipse cx="556.901790044096" cy="594.9291243226361" rx="2.2" ry="4" transform="rotate(-49.899092453787766 556.901790044096 594.9291243226361)" stroke-width="1.5" fill="#fff"/>
<ellipse cx="558.0612343865049" cy="593.5522841660254" rx="1.8" ry="3.2" transform="rotate(-49.899092453787766 558.0612343865049 593.5522841660254)" stroke-width="1.5" fill="#fff"/>
<path d="M596.1,581.9 L610.3,576.3 L611.7,579.7 L597.9,586.1" stroke-width="1.5" fill="none"/>
<path d="M607.0,577.2 L610.3,580.8" stroke-width="1.1" fill="none"/>
<path d="M604.7,578.2 L608.0,581.8" stroke-width="1.1" fill="none"/>
<path d="M602.4,579.2 L605.6,582.8" stroke-width="1.1" fill="none"/>
<path d="M600.0,580.2 L603.3,583.8" stroke-width="1.1" fill="none"/>
<path d="M597.7,581.2 L601.0,584.8" stroke-width="1.1" fill="none"/>
<ellipse cx="595.6488568058735" cy="584.5790613689114" rx="2.3100000000000005" ry="4.2" transform="rotate(156.80140948635182 595.6488568058735 584.5790613689114)" stroke-width="1.5" fill="#fff"/>
<ellipse cx="593.9116726991393" cy="585.323568843226" rx="1.8900000000000001" ry="3.3600000000000003" transform="rotate(156.80140948635182 593.9116726991393 585.323568843226)" stroke-width="1.5" fill="#fff"/>
<path d="M431.5,553.0 L431.0,572.0 L427.0,572.0 L426.5,553.0" stroke-width="1.5" fill="none"/>
<path d="M431.5,568.5 L426.5,570.1" stroke-width="1.1" fill="none"/>
<path d="M431.5,565.8 L426.5,567.4" stroke-width="1.1" fill="none"/>
<path d="M431.5,563.1 L426.5,564.7" stroke-width="1.1" fill="none"/>
<path d="M431.5,560.3 L426.5,561.9" stroke-width="1.1" fill="none"/>
<path d="M431.5,557.6 L426.5,559.2" stroke-width="1.1" fill="none"/>
<path d="M431.5,554.9 L426.5,556.5" stroke-width="1.1" fill="none"/>
<ellipse cx="429.0" cy="551.425" rx="2.475" ry="4.5" transform="rotate(-90.0 429.0 551.425)" stroke-width="1.5" fill="#fff"/>
<ellipse cx="429.0" cy="549.4" rx="2.025" ry="3.6" transform="rotate(-90.0 429.0 549.4)" stroke-width="1.5" fill="#fff"/>
<path d="M429.2,571.9 L429.2,575.4 L460.5,575.4" stroke-width="1.5" fill="none"/>
<path d="M459.0,548.0 L479.0,557.0" stroke-width="1.5" fill="none"/>
<path d="M495.7,568.7 L477.9,559.1 L480.1,554.9 L498.3,563.3" stroke-width="1.5" fill="none"/>
<path d="M481.4,561.5 L482.6,555.5" stroke-width="1.1" fill="none"/>
<path d="M484.4,563.0 L485.6,557.0" stroke-width="1.1" fill="none"/>
<path d="M487.4,564.5 L488.6,558.5" stroke-width="1.1" fill="none"/>
<path d="M490.4,566.0 L491.6,560.0" stroke-width="1.1" fill="none"/>
<path d="M493.4,567.5 L494.6,561.5" stroke-width="1.1" fill="none"/>
<ellipse cx="498.4087228258249" cy="566.7043614129125" rx="2.475" ry="4.5" transform="rotate(26.56505117707799 498.4087228258249 566.7043614129125)" stroke-width="1.5" fill="#fff"/>
<ellipse cx="500.2199378875997" cy="567.6099689437998" rx="2.025" ry="3.6" transform="rotate(26.56505117707799 500.2199378875997 567.6099689437998)" stroke-width="1.5" fill="#fff"/>
<path d="M441.0,544.4 L440.5,544.9 L440.1,545.5 L440.0,546.2 L440.0,554.6 L440.2,555.4 L442.7,561.4 L443.1,561.9 L443.6,562.3 L450.0,566.0 L451.0,576.6 L451.2,577.4 L454.4,583.0 L454.9,583.5 L455.5,583.9 L456.2,584.0 L461.1,584.0 L461.9,583.8 L462.6,583.3 L466.5,578.6 L466.9,578.0 L467.0,577.3 L467.0,556.3 L466.9,555.7 L464.1,546.3 L463.8,545.8 L460.6,541.0 L460.2,540.5 L459.5,540.2 L458.8,540.1 L447.4,541.0 L446.6,541.2 L441.0,544.4 Z" stroke-width="1.5" fill="none"/>
<path d="M443.0,562.0 L466.0,556.0" stroke-width="1.5" fill="none"/>
<circle cx="446" cy="548" r="1.4" stroke-width="1.5" fill="none"/>
<circle cx="446" cy="556" r="1.4" stroke-width="1.5" fill="none"/>
<circle cx="458" cy="547" r="1.6" stroke-width="1.5" fill="none"/>
<circle cx="456" cy="578" r="1.6" stroke-width="1.5" fill="none"/>
<path d="M461.4,587.0 L461.4,602.0" stroke-width="1.5" fill="none"/>
<path d="M460.0,599.0 L458.9,599.2 L457.9,599.9 L457.2,600.9 L457.0,602.0 L457.0,619.2 L457.4,620.7 L458.5,622.5 L459.3,623.3 L460.3,623.8 L461.5,623.9 L462.5,623.5 L465.5,621.9 L466.3,621.2 L466.8,620.3 L467.0,619.3 L467.0,602.0 L466.8,600.9 L466.1,599.9 L465.1,599.2 L464.0,599.0 L460.0,599.0 Z" stroke-width="1.5" fill="none"/>
<circle cx="461.5" cy="607" r="1.4" stroke-width="1.5" fill="none"/>
<path d="M449.1,616.6 L448.4,616.9 L447.8,617.5 L447.5,618.3 L447.6,619.1 L451.4,633.6 L451.7,634.3 L452.2,634.8 L452.8,635.0 L453.5,635.1 L454.2,634.9 L466.5,628.7 L467.1,628.3 L467.5,627.8 L467.6,627.1 L467.5,626.4 L464.5,615.7 L464.2,615.1 L463.6,614.6 L463.0,614.3 L462.2,614.3 L449.1,616.6 Z" stroke-width="1.5" fill="none"/>
<ellipse cx="449.5" cy="631" rx="3.8" ry="5" transform="rotate(0 449.5 631)" stroke-width="1.5" fill="#fff"/>
<circle cx="462" cy="625" r="5.5" stroke-width="1.5" fill="#fff"/>
<circle cx="462" cy="625" r="2.5" stroke-width="1.5" fill="none"/>
<path d="M469.4,520.0 L520.0,545.0" stroke-width="1.5" fill="none" stroke-dasharray="9 3 3 3"/>
<circle cx="491.7" cy="623.5" r="17.2" fill="#8494cc" stroke="none"/>
<path d="M338.8,100.8 L338.8,111.8" stroke-width="1.5" fill="none"/>
<path d="M361.2,111.8 L361.2,122.4" stroke-width="1.5" fill="none"/>
<path d="M297.8,172.3 L309.5,172.3" stroke-width="1.5" fill="none"/>
<path d="M389.8,171.6 L403.0,171.6" stroke-width="1.5" fill="none"/>
<path d="M354.6,182.2 L354.6,198.7" stroke-width="1.5" fill="none"/>
<path d="M214.0,173.0 L214.0,187.0" stroke-width="1.5" fill="none"/>
<path d="M114.0,223.0 L114.0,257.0" stroke-width="1.5" fill="none"/>
<path d="M129.0,230.5 L129.0,265.5" stroke-width="1.5" fill="none"/>
<path d="M241.0,206.7 L241.0,220.0" stroke-width="1.5" fill="none"/>
<path d="M269.5,208.9 L280.9,208.9" stroke-width="1.5" fill="none"/>
<path d="M275.7,230.0 L286.0,230.0" stroke-width="1.5" fill="none"/>
<path d="M247.9,255.7 L259.2,255.7" stroke-width="1.5" fill="none"/>
<path d="M239.6,285.2 L243.7,291.4" stroke-width="1.5" fill="none"/>
<path d="M308.7,264.6 L308.7,276.0" stroke-width="1.5" fill="none"/>
<path d="M277.8,302.8 L284.0,302.8" stroke-width="1.5" fill="none"/>
<path d="M326.2,282.1 L321.1,295.5" stroke-width="1.5" fill="none"/>
<path d="M282.8,327.2 L291.0,327.2" stroke-width="1.5" fill="none"/>
<path d="M313.8,352.0 L313.8,362.3" stroke-width="1.5" fill="none"/>
<path d="M304.5,400.5 L299.3,406.7" stroke-width="1.5" fill="none"/>
<path d="M160.9,383.5 L203.2,383.5" stroke-width="1.5" fill="none"/>
<path d="M143.3,365.9 L181.5,365.9" stroke-width="1.5" fill="none"/>
<path d="M171.4,413.1 L182.0,413.1" stroke-width="1.5" fill="none"/>
<path d="M246.4,418.0 L254.7,418.0" stroke-width="1.5" fill="none"/>
<path d="M259.6,447.0 L259.6,459.3" stroke-width="1.5" fill="none"/>
<path d="M285.2,462.6 L285.2,462.5" stroke-width="1.5" fill="none"/>
<path d="M305.8,457.7 L305.8,467.6" stroke-width="1.5" fill="none"/>
<path d="M458.0,237.0 L458.0,252.0" stroke-width="1.5" fill="none"/>
<path d="M401.4,284.9 L419.0,284.9" stroke-width="1.5" fill="none"/>
<path d="M414.6,305.8 L427.8,305.8" stroke-width="1.5" fill="none"/>
<path d="M387.0,323.4 L387.0,330.0" stroke-width="1.5" fill="none"/>
<path d="M361.8,331.0 L361.8,340.0" stroke-width="1.5" fill="none"/>
<path d="M418.0,326.7 L427.8,326.7" stroke-width="1.5" fill="none"/>
<path d="M460.8,320.1 L443.2,344.3" stroke-width="1.5" fill="none"/>
<path d="M393.8,370.5 L393.8,379.0" stroke-width="1.5" fill="none"/>
<path d="M366.4,402.3 L363.5,413.8" stroke-width="1.5" fill="none"/>
<path d="M438.6,406.6 L451.6,406.6" stroke-width="1.5" fill="none"/>
<path d="M379.4,421.0 L395.3,421.0" stroke-width="1.5" fill="none"/>
<path d="M393.8,454.3 L393.8,463.0" stroke-width="1.5" fill="none"/>
<path d="M471.8,494.7 L483.4,494.7" stroke-width="1.5" fill="none"/>
<path d="M564.3,219.7 L564.3,252.7" stroke-width="1.5" fill="none"/>
<path d="M576.8,256.0 L590.0,256.0" stroke-width="1.5" fill="none"/>
<path d="M583.4,280.2 L595.5,280.2" stroke-width="1.5" fill="none"/>
<path d="M538.3,315.4 L538.3,328.6" stroke-width="1.5" fill="none"/>
<path d="M581.7,325.3 L581.7,337.4" stroke-width="1.5" fill="none"/>
<path d="M574.2,389.3 L574.2,407.0" stroke-width="1.5" fill="none"/>
<path d="M523.4,400.3 L523.4,412.4" stroke-width="1.5" fill="none"/>
<path d="M515.2,451.0 L515.2,464.0" stroke-width="1.5" fill="none"/>
<path d="M543.6,495.0 L558.0,495.0" stroke-width="1.5" fill="none"/>
<path d="M525.4,513.7 L525.4,523.8" stroke-width="1.5" fill="none"/>
<path d="M584.0,546.9 L584.0,561.3" stroke-width="1.5" fill="none"/>
<path d="M504.6,568.5 L517.6,568.5" stroke-width="1.5" fill="none"/>
<path d="M469.4,579.0 L482.8,584.4" stroke-width="1.5" fill="none"/>
<path d="M469.4,623.4 L483.7,623.4" stroke-width="1.5" fill="none"/>
<path d="M555.7,606.0 L555.7,614.7" stroke-width="1.5" fill="none"/>
<path d="M601.9,588.7 L601.9,603.2" stroke-width="1.5" fill="none"/>
<path d="M410.4,560.8 L423.8,560.8" stroke-width="1.5" fill="none"/>
<path d="M238.3,566.3 L238.3,579.7" stroke-width="1.5" fill="none"/>
<path d="M255.4,534.4 L255.4,547.8" stroke-width="1.5" fill="none"/>
<path d="M278.1,529.2 L278.1,541.6" stroke-width="1.5" fill="none"/>
<path d="M296.7,548.8 L296.7,561.2" stroke-width="1.5" fill="none"/>
<path d="M322.4,567.4 L322.4,581.8" stroke-width="1.5" fill="none"/>
<path d="M365.8,555.0 L365.8,569.4" stroke-width="1.5" fill="none"/>
<path d="M270.2,603.5 L270.2,617.9" stroke-width="1.5" fill="none"/>
<path d="M306.9,680.0 L323.9,680.0" stroke-width="1.5" fill="none"/>
<path d="M455.5,227.5 L459.5,224.5 L459.5,236.5" stroke-width="1.4" fill="none"/></g>
<g font-family="Liberation Sans" font-size="14" fill="#000"><text x="330.2" y="98.6">63</text>
<text x="351.8" y="109.6">62</text>
<text x="278.8" y="177.2">60</text>
<text x="404.2" y="177.2">60</text>
<text x="347.4" y="212.4">61</text>
<text x="206.3" y="171.7">31</text>
<text x="141.3" y="204.5">45</text>
<text x="104.2" y="217.3">50</text>
<text x="122.7" y="226.5">46</text>
<text x="178.4" y="260.6">47</text>
<text x="234.9" y="204.8">32</text>
<text x="282.4" y="214.0">57</text>
<text x="287.4" y="235.7">58</text>
<text x="229.7" y="261.0">56</text>
<text x="228.9" y="282.2">35</text>
<text x="300.9" y="262.6">65</text>
<text x="321.4" y="280.3">2</text>
<text x="259.6" y="307.5">64</text>
<text x="267.8" y="331.5">67</text>
<text x="306.0" y="371.8">66</text>
<text x="297.7" y="397.4">36</text>
<text x="113.8" y="385.3">48</text>
<text x="143.8" y="389.7">49</text>
<text x="155.1" y="418.0">37</text>
<text x="228.5" y="423.2">42</text>
<text x="192.2" y="440.3">35</text>
<text x="194.7" y="464.2">34</text>
<text x="251.6" y="472.5">41</text>
<text x="275.5" y="485.7">39</text>
<text x="298.6" y="480.8">40</text>
<text x="419.4" y="290.4">19</text>
<text x="428.4" y="310.2">21</text>
<text x="379.9" y="321.7">18</text>
<text x="428.4" y="331.1">20</text>
<text x="353.4" y="353.0">17</text>
<text x="453.6" y="319.0">55A</text>
<text x="385.1" y="390.7">55</text>
<text x="360.0" y="399.4">4A</text>
<text x="420.7" y="413.6">54</text>
<text x="396.1" y="425.4">4</text>
<text x="387.4" y="477.2">5</text>
<text x="453.9" y="500.3">77</text>
<text x="568.5" y="209.8">25</text>
<text x="580.6" y="232.9">26</text>
<text x="590.5" y="261.5">27</text>
<text x="596.0" y="286.8">28</text>
<text x="532.2" y="341.8">26</text>
<text x="577.3" y="323.1">8</text>
<text x="515.7" y="424.5">10</text>
<text x="569.6" y="419.0">9</text>
<text x="511.4" y="448.7">3</text>
<text x="558.9" y="500.5">6</text>
<text x="521.4" y="539.5">7</text>
<text x="576.2" y="545.4">11</text>
<text x="517.0" y="574.3">15</text>
<text x="483.8" y="594.5">14</text>
<text x="484.0" y="629.1">13</text>
<text x="547.4" y="629.1">12</text>
<text x="593.4" y="617.6">12</text>
<text x="393.7" y="565.6">15</text>
<text x="231.1" y="592.1">68</text>
<text x="248.6" y="560.1">69</text>
<text x="271.3" y="554.0">71</text>
<text x="288.8" y="573.6">70</text>
<text x="314.6" y="596.3">75</text>
<text x="356.9" y="581.8">76</text>
<text x="262.0" y="632.4">72</text>
<text x="279.9" y="685.6">47A</text>
<text x="341" y="498" style="font-size:10px">c</text>
<text x="388" y="489" style="font-size:10px">c</text>
<text x="426" y="476" style="font-size:10px">c</text>
<text x="459" y="461" style="font-size:10px">c</text>
<text x="398" y="440" style="font-size:10px">c</text></g>
</svg>
</body></html>
